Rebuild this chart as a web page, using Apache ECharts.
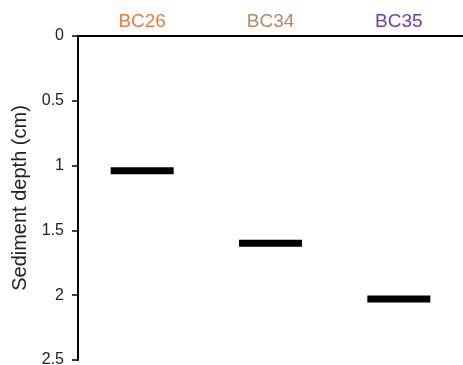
<!DOCTYPE html>
<html><head><meta charset="utf-8">
<script src="https://cdn.jsdelivr.net/npm/echarts@6/dist/echarts.min.js"></script>
<style>html,body{margin:0;padding:0;background:#fff}#c{width:463px;height:365px}</style>
</head><body><div id="c"></div>
<script>
const categories = ["BC26", "BC34", "BC35"];
const depths = [1.04, 1.6, 2.03];
const labelColors = ["#f07a3c", "#b8895e", "#7a3da8"];
const yTicks = [0, 0.5, 1, 1.5, 2, 2.5];

const FONT = 'Liberation Sans, Arial, sans-serif';
const chart = echarts.init(document.getElementById('c'));
chart.setOption({
  animation: false,
  backgroundColor: '#fff',
  grid: { left: 78, right: 0, top: 36, bottom: 5, containLabel: false, outerBoundsMode: 'none' },
  xAxis: {
    type: 'category', data: categories, position: 'top',
    axisLine: { lineStyle: { color: '#000', width: 2 } },
    axisTick: { show: false },
    axisLabel: {
      margin: 5, fontFamily: FONT, fontSize: 19,
      color: (v, i) => labelColors[categories.indexOf(v)]
    }
  },
  yAxis: {
    type: 'value', inverse: true, min: yTicks[0], max: yTicks[yTicks.length - 1], interval: 0.5,
    name: 'Sediment depth (cm)', nameLocation: 'middle', nameGap: 47, nameRotate: 90,
    nameTextStyle: { color: '#222', fontSize: 20, fontFamily: FONT },
    axisLine: { show: true, lineStyle: { color: '#000', width: 2 } },
    axisTick: { show: true, length: 6, lineStyle: { color: '#000', width: 1.5 } },
    axisLabel: { color: '#222', fontSize: 16, margin: 14, fontFamily: FONT,
      formatter: (v) => String(v) },
    splitLine: { show: false }
  },
  series: [{
    type: 'scatter',
    data: categories.map((c, i) => [c, depths[i]]),
    symbol: 'rect', symbolSize: [63, 7],
    itemStyle: { color: '#000', opacity: 1 }
  }]
});
</script></body></html>
